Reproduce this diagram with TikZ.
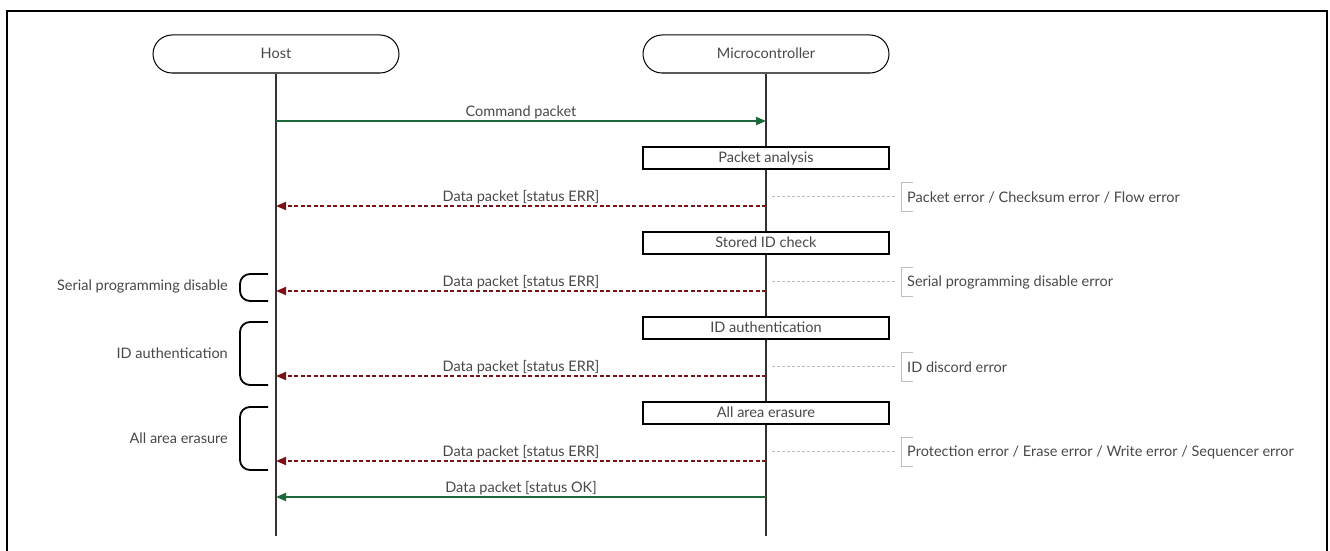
\documentclass[tikz,border=0pt]{standalone}
\usepackage{fontspec}
\setmainfont{Lato}
\usetikzlibrary{arrows.meta}
\definecolor{okgreen}{RGB}{28,104,58}
\definecolor{errred}{RGB}{122,18,24}
\definecolor{txt}{RGB}{72,72,72}
\definecolor{notegray}{RGB}{190,190,190}
\begin{document}
\begin{tikzpicture}[x=1pt,y=-1pt,
  every node/.style={text=txt, font=\fontsize{14.5}{16}\selectfont},
  lifebox/.style={draw, line width=1pt, rounded corners=19pt, minimum width=246pt, minimum height=38pt, inner sep=0pt, text depth=1pt},
  lifeline/.style={draw=black!80, line width=1.1pt},
  procbox/.style={draw, line width=1.2pt, minimum width=246pt, minimum height=22pt, inner sep=0pt, text depth=1.5pt},
  okmsg/.style={draw=okgreen, line width=1.8pt, -{Triangle[length=10pt,width=8pt]}},
  errmsg/.style={draw=errred, line width=1.8pt, dash pattern=on 4pt off 2.5pt, -{Triangle[length=10pt,width=8pt]}},
  msglab/.style={above=0pt, inner sep=1pt},
  notelink/.style={draw=notegray, line width=0.8pt, dash pattern=on 3pt off 2pt},
  notebr/.style={draw=notegray, line width=1pt},
  notetext/.style={anchor=west, inner xsep=1pt, inner ysep=0pt},
  grpbr/.style={draw=black, line width=1.8pt, rounded corners=10pt},
  grptext/.style={anchor=east, inner sep=0pt}
]
\useasboundingbox (0,0) rectangle (1330,551);
% frame
\draw[line width=2pt] (7,560) -- (7,11) -- (1327,11) -- (1327,560);

% lifelines
\node[lifebox] (host) at (276,54) {Host};
\node[lifebox] (mcu) at (766,54) {Microcontroller};
\coordinate (hostend) at (276,536);
\coordinate (mcuend) at (766,536);
\draw[lifeline] (host.south) -- (hostend);
\draw[lifeline] (mcu.south) -- (mcuend);

% process boxes
\node[procbox, fill=white] (pa) at (766,158) {Packet analysis};
\node[procbox, fill=white] (sid) at (766,243) {Stored ID check};
\node[procbox, fill=white] (ida) at (766,328) {ID authentication};
\node[procbox, fill=white] (aae) at (766,413) {All area erasure};

% message anchors
\coordinate (h1) at (276,121); \coordinate (m1) at (766,121);
\coordinate (h2) at (276,206); \coordinate (m2) at (766,206);
\coordinate (h3) at (276,291); \coordinate (m3) at (766,291);
\coordinate (h4) at (276,376); \coordinate (m4) at (766,376);
\coordinate (h5) at (276,461); \coordinate (m5) at (766,461);
\coordinate (h6) at (276,497); \coordinate (m6) at (766,497);

\draw[okmsg] (h1) -- node[msglab] {Command packet} (m1);
\draw[errmsg] (m2) -- node[msglab] {Data packet [status ERR]} (h2);
\draw[errmsg] (m3) -- node[msglab] {Data packet [status ERR]} (h3);
\draw[errmsg] (m4) -- node[msglab] {Data packet [status ERR]} (h4);
\draw[errmsg] (m5) -- node[msglab] {Data packet [status ERR]} (h5);
\draw[okmsg] (m6) -- node[msglab] {Data packet [status OK]} (h6);

% notes on the right
\coordinate (c1) at (772,196); \coordinate (c2) at (772,281);
\coordinate (c3) at (772,366); \coordinate (c4) at (772,451);
\node[notetext] (n1) at (906,197) {Packet error / Checksum error / Flow error};
\node[notetext] (n2) at (906,282) {Serial programming disable error};
\node[notetext] (n3) at (906,367) {ID discord error};
\node[notetext] (n4) at (906,452) {Protection error / Erase error / Write error / Sequencer error};
\draw[notelink] (c1) -- ([xshift=-11pt]n1.west |- c1);
\draw[notelink] (c2) -- ([xshift=-11pt]n2.west |- c2);
\draw[notelink] (c3) -- ([xshift=-11pt]n3.west |- c3);
\draw[notelink] (c4) -- ([xshift=-11pt]n4.west |- c4);
\draw[notebr] (913,182) -- (901,182) -- (901,211) -- (913,211);
\draw[notebr] (913,267) -- (901,267) -- (901,296) -- (913,296);
\draw[notebr] (913,352) -- (901,352) -- (901,381) -- (913,381);
\draw[notebr] (913,437) -- (901,437) -- (901,466) -- (913,466);

% group brackets on the left
\node[grptext] (g1) at (228,286) {Serial programming disable};
\node[grptext] (g2) at (228,353) {ID authentication};
\node[grptext] (g3) at (228,438) {All area erasure};
\draw[grpbr] (268,274) -- (240,274) -- (240,301) -- (268,301);
\draw[grpbr] (268,322) -- (240,322) -- (240,385) -- (268,385);
\draw[grpbr] (268,407) -- (240,407) -- (240,470) -- (268,470);
\end{tikzpicture}
\end{document}
